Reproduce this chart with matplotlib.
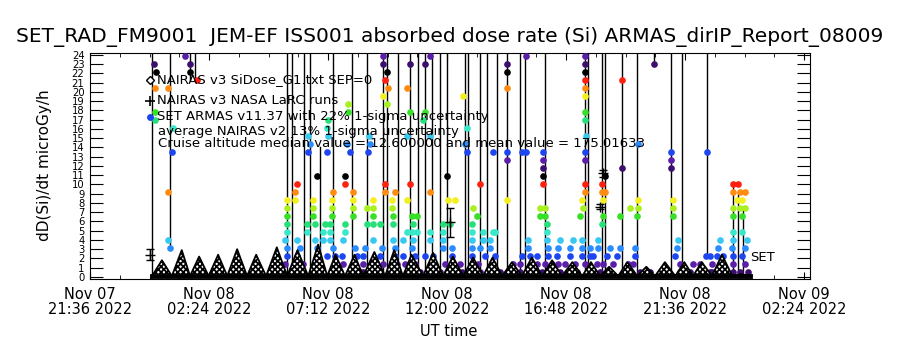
import numpy as np
import matplotlib
matplotlib.use("Agg")
import matplotlib.pyplot as plt
import matplotlib.dates as mdates
from datetime import datetime, timedelta

plt.rcParams['font.family'] = ['DejaVu Sans']
plt.rcParams['hatch.linewidth'] = 1.3

t0 = datetime(2022, 11, 7, 21, 36)
t_end_min = 1742

# NAIRAS v3 SiDose (minutes after t0, dose rate), orbit humps
nairas_min = [150, 174, 198, 222, 242, 264, 287, 310, 332, 356, 380, 402, 426, 452,
              477, 502, 528, 552, 574, 594, 617, 640, 661, 688, 714, 736, 757, 778,
              806, 830, 854, 878, 903, 927, 951, 974, 997, 1021, 1045, 1069, 1094,
              1118, 1142, 1167, 1191, 1212, 1234, 1256, 1278, 1300, 1324, 1346,
              1367, 1391, 1416, 1438, 1459, 1480, 1505, 1529, 1554, 1576, 1597]
nairas_val = [0.1, 1.8, 0.1, 2.9, 0.1, 2.2, 0.1, 2.4, 0.1, 3.0, 0.1, 2.4, 0.1, 3.2,
              0.1, 2.9, 0.1, 3.5, 0.1, 2.4, 0.1, 2.4, 0.1, 2.7, 0.1, 2.9, 0.1, 2.4,
              0.1, 2.6, 0.1, 2.2, 0.1, 2.1, 0.1, 2.1, 0.1, 1.6, 0.1, 2.1, 0.1,
              1.8, 0.1, 1.6, 0.1, 1.6, 0.1, 1.1, 0.1, 1.6, 0.1, 1.1,
              0.1, 1.6, 0.1, 1.6, 0.1, 1.6, 0.1, 2.4, 0.1, 0.3, 0.1]

# NAIRAS v3 NASA LaRC runs (minutes, dose, 1-sigma)
larc_min = [145, 871, 1234, 1241]
larc_val = [2.4, 5.9, 7.6, 11.2]
larc_err = [0.6, 1.6, 0.3, 0.4]

# SET ARMAS: dose is quantised in counts, minutes of each sample per count level
dose_per_count = 0.865
dose_offset = 0.54
set_rows = {
    0: [467, 491, 549, 600, 605, 653, 661, 697, 743, 799, 830, 847, 871, 883, 900, 920,
        944, 968, 992, 1016, 1041, 1065, 1077, 1094, 1113, 1137, 1162, 1179, 1210, 1234,
        1258, 1307, 1331, 1355, 1428, 1452, 1476, 1500, 1505, 1525, 1556, 1573, 1592],
    1: [472, 496, 515, 549, 598, 612, 661, 690, 709, 743, 762, 787, 830, 859, 876, 895,
        924, 939, 975, 1024, 1041, 1082, 1101, 1118, 1133, 1150, 1174, 1198, 1227, 1241,
        1266, 1302, 1314, 1428, 1459, 1476, 1505, 1525, 1556, 1585],
    2: [477, 501, 549, 574, 593, 610, 646, 661, 702, 738, 757, 787, 811, 830, 876, 924,
        956, 980, 1045, 1065, 1082, 1108, 1130, 1162, 1191, 1210, 1217, 1251, 1275, 1319,
        1416, 1491, 1500, 1517, 1532, 1556, 1578],
    3: [194, 477, 508, 549, 588, 641, 666, 707, 738, 779, 854, 876, 924, 944, 968, 1060,
        1108, 1133, 1162, 1191, 1210, 1229, 1258, 1283, 1319, 1421, 1520, 1554, 1585],
    4: [189, 472, 501, 545, 564, 581, 612, 685, 733, 757, 782, 823, 854, 924, 951, 968,
        1060, 1106, 1137, 1169, 1191, 1229, 1423, 1525, 1556, 1590],
    5: [477, 525, 564, 581, 617, 767, 779, 791, 823, 854, 924, 951, 975, 980, 1106,
        1556, 1578],
    6: [477, 525, 545, 569, 581, 617, 670, 685, 702, 733, 782, 854, 871, 924, 1106, 1239],
    7: [477, 540, 586, 636, 685, 733, 779, 791, 937, 1089, 1101, 1186, 1241, 1283, 1324,
        1411, 1556, 1578],
    8: [477, 540, 586, 636, 670, 685, 731, 927, 1089, 1101, 1193, 1307, 1326, 1411, 1556,
        1573, 1585],
    9: [477, 496, 540, 586, 636, 685, 731, 767, 866, 883, 1009, 1191, 1241, 1326, 1411,
        1566, 1578],
    10: [189, 496, 588, 636, 714, 738, 823, 1198, 1239, 1246, 1556, 1573, 1585],
    11: [501, 617, 714, 774, 944, 1096, 1198, 1239, 1556, 1568],
    12: [549, 617, 864, 1096, 1246],
    13: [1096, 1287, 1406],
    14: [1009, 1096, 1198, 1406],
    15: [198, 528, 574, 629, 673, 912, 975, 1009, 1045, 1055, 1096, 1198, 1406, 1493],
    16: [532, 622, 678, 908, 1326],
    17: [528, 576, 675, 767, 823, 1201],
    18: [201, 574, 912],
    19: [157, 576, 806, 1198],
    20: [157, 624, 774, 811, 1198],
    21: [624, 719],
    22: [709, 903, 1198],
    23: [157, 189, 721, 767, 1009, 1198],
    24: [259, 714, 1198, 1287],
    25: [160, 242, 719, 1009, 1198],
    26: [155, 242, 709, 774, 811, 1009, 1198, 1365],
    27: [230, 709, 823, 1055, 1198],
}

# vertical excursions of the SET trace (minutes, low dose, high dose)
spike_min = [150, 194, 242, 254, 477, 489, 518, 532, 557, 588, 634, 670, 709, 719, 745,
             774, 794, 811, 828, 847, 864, 908, 915, 944, 961, 985, 1009, 1041, 1053,
             1101, 1198, 1205, 1239, 1246, 1287, 1324, 1365, 1406, 1433, 1493, 1556,
             1568, 1580]
spike_lo = [0, 3.1, 21.3, 21.3, 0, 0, 0, 0, 0, 0, 0, 0, 0, 0, 0,
            0, 0, 0, 0, 0, 0, 0, 0, 0, 0, 0, 0, 0, 0,
            0, 0, 0, 0, 0, 0, 0, 23.0, 0, 0, 2.3, 0,
            0, 0]
spike_hi = [30, 30, 30, 30, 30, 30, 30, 30, 14, 30, 30, 30, 30, 30, 30,
            30, 30, 30, 30, 30, 30, 30, 30, 30, 30, 30, 30, 30, 30,
            30, 30, 30, 30, 30, 30, 30, 30, 30, 30, 30, 10.1,
            9.2, 7.5]

row_colors = ['#3c0f6e', '#5a1fa8', '#1e46f0', '#2a8cff', '#38c8f0', '#38e8c8',
              '#28e07a', '#38e028', '#a8f020', '#f4f020', '#ff8c10', '#ff2010', '#000000']


def tm(m):
    return [t0 + timedelta(minutes=float(v)) for v in np.atleast_1d(m)]


fig = plt.figure(figsize=(9, 3.5), dpi=100)
ax = fig.add_axes([0.1, 0.2029, 0.8, 0.6457])

# SET trace lines
for m, lo, hi in zip(spike_min, spike_lo, spike_hi):
    ax.plot(tm([m, m]), [lo, hi], color='black', lw=1.0, zorder=2)

# SET markers
for k, mins in set_rows.items():
    v = dose_offset + dose_per_count * k
    ax.plot(tm(mins), [v] * len(mins), 'o', color=row_colors[k % 13],
            ms=4.8, mec='none', zorder=3)

# NAIRAS humps
nt = tm(nairas_min)
ax.fill_between(nt, 0, nairas_val, facecolor='white', edgecolor='black',
                hatch='xxxxxx', lw=0, zorder=4)
ax.plot(nt, nairas_val, color='black', lw=1.3, zorder=5)
ax.plot([nt[0], nt[-1]], [0.08, 0.08], color='black', lw=3.5, zorder=5)

# LaRC runs
ax.errorbar(tm(larc_min), larc_val, yerr=larc_err, fmt='+', color='black',
            ms=7, capsize=3, lw=1, zorder=6)

ax.set_xlim(tm(0)[0], tm(t_end_min)[0])
ax.set_ylim(-0.22, 24.2)

major = [mdates.date2num(t0 + timedelta(hours=4.8 * i)) for i in range(7)]
minor = [mdates.date2num(t0 + timedelta(hours=1.2 * i)) for i in range(25)]
ax.xaxis.set_major_locator(matplotlib.ticker.FixedLocator(major))
ax.xaxis.set_minor_locator(matplotlib.ticker.FixedLocator(minor))
ax.xaxis.set_major_formatter(mdates.DateFormatter('%b %d\n%H:%M %Y'))
ax.set_yticks(range(0, 25))
ax.tick_params(axis='x', which='major', direction='in', length=5, top=True,
               labelsize=10.5, pad=6)
ax.tick_params(axis='x', which='minor', direction='in', length=3, top=True)
ax.tick_params(axis='y', which='major', direction='in', length=9.5, right=True,
               labelsize=7.2, pad=4)
for lab in ax.get_xticklabels():
    lab.set_linespacing(1.0)

# legend text as in the original plot
ax.plot([0.083], [0.881], 'D', mfc='white', mec='black', ms=4,
        transform=ax.transAxes, clip_on=False, zorder=7)
ax.plot([0.083], [0.788], '+', color='black', ms=7, mew=1.2,
        transform=ax.transAxes, clip_on=False, zorder=7)
ax.plot([0.083], [0.717], 'o', color='#1e46f0', ms=5, mec='none',
        transform=ax.transAxes, clip_on=False, zorder=7)
lt = dict(transform=ax.transAxes, fontsize=9.5, va='center', ha='left', zorder=8)
ax.text(0.093, 0.881, 'NAIRAS v3 SiDose_G1.txt SEP=0', **lt)
ax.text(0.093, 0.788, 'NAIRAS v3 NASA LaRC runs', **lt)
ax.text(0.093, 0.717, 'SET ARMAS v11.37 with 22% 1-sigma uncertainty', **lt)
ax.text(0.094, 0.652, 'average NAIRAS v2 13% 1-sigma uncertainty', **lt)
ax.text(0.094, 0.600, 'Cruise altitude median value = 12.600000 and mean value = 175.01633', **lt)
ax.text(0.917, 0.097, 'SET', **lt)

fig.text(0.5, 1 - 37 / 350, 'SET_RAD_FM9001  JEM-EF ISS001 absorbed dose rate (Si) ARMAS_dirIP_Report_08009',
         ha='center', va='center', fontsize=14.5)
fig.text(0.05, 1 - 165 / 350, 'dD(Si)/dt microGy/h', rotation=90, ha='center', va='center',
         fontsize=11)
fig.text(0.498, 1 - 332 / 350, 'UT time', ha='center', va='center', fontsize=10.5)

fig.savefig('out.png', dpi=100)
